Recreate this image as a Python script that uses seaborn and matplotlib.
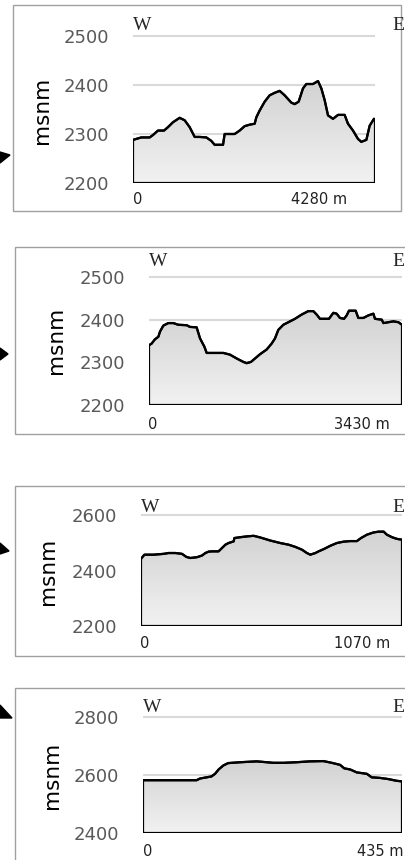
import numpy as np
import matplotlib
matplotlib.use("Agg")
import matplotlib.pyplot as plt
from matplotlib.patches import Polygon, Rectangle
from matplotlib.colors import LinearSegmentedColormap
import seaborn as sns

# ---- data ----
dist_1 = [0, 88, 147, 295, 354, 442, 548, 619, 707, 825, 914, 1002, 1091, 1179, 1297, 1385,
          1444, 1592, 1621, 1798, 1886, 1975, 2063, 2152, 2181, 2240, 2329, 2417, 2505, 2594,
          2682, 2800, 2859, 2930, 3006, 3065, 3183, 3272, 3331, 3390, 3449, 3537, 3626, 3743,
          3802, 3891, 3979, 4038, 4127, 4186, 4262, 4280]
elev_1 = [2288, 2291, 2293, 2293, 2298, 2307, 2307, 2314, 2324, 2333, 2328, 2314, 2294, 2294,
          2293, 2286, 2278, 2278, 2300, 2300, 2307, 2316, 2319, 2321, 2334, 2348, 2366, 2379,
          2384, 2388, 2379, 2364, 2361, 2366, 2393, 2402, 2402, 2408, 2393, 2369, 2338, 2331,
          2339, 2339, 2321, 2307, 2290, 2284, 2288, 2317, 2331, 2328]

dist_2 = [0, 36, 81, 127, 149, 194, 262, 330, 398, 511, 556, 646, 692, 750, 782, 850, 1008,
          1098, 1189, 1279, 1324, 1383, 1437, 1505, 1595, 1663, 1708, 1753, 1821, 1889, 1979,
          2070, 2160, 2228, 2273, 2318, 2409, 2440, 2499, 2544, 2589, 2644, 2680, 2711, 2802,
          2838, 2906, 2974, 3042, 3064, 3155, 3178, 3245, 3313, 3381, 3430]
elev_2 = [2340, 2344, 2354, 2360, 2372, 2386, 2392, 2392, 2388, 2387, 2383, 2382, 2356, 2337,
          2322, 2322, 2322, 2318, 2309, 2301, 2298, 2301, 2309, 2319, 2330, 2344, 2356, 2376,
          2388, 2394, 2402, 2412, 2420, 2420, 2412, 2402, 2402, 2402, 2416, 2414, 2404, 2402,
          2410, 2421, 2421, 2404, 2404, 2410, 2414, 2402, 2400, 2392, 2394, 2396, 2394, 2388]

dist_3 = [0, 14, 52, 93, 113, 141, 168, 186, 202, 230, 250, 264, 277, 291, 318, 332, 346, 359,
          380, 383, 407, 435, 462, 489, 530, 571, 605, 633, 660, 680, 694, 715, 728, 749, 776,
          803, 831, 858, 885, 902, 926, 953, 974, 995, 1008, 1029, 1049, 1070]
elev_3 = [2442, 2457, 2457, 2460, 2463, 2463, 2460, 2449, 2445, 2448, 2454, 2463, 2468, 2469,
          2469, 2481, 2493, 2499, 2505, 2517, 2520, 2523, 2525, 2519, 2508, 2499, 2493, 2485,
          2475, 2463, 2457, 2463, 2469, 2477, 2489, 2499, 2504, 2506, 2506, 2517, 2529, 2537,
          2540, 2540, 2529, 2520, 2514, 2511]

dist_4 = [0, 40, 90, 96, 107, 115, 121, 127, 135, 143, 163, 191, 219, 236, 258, 280, 303, 317,
          331, 338, 348, 359, 376, 384, 398, 412, 426, 435]
elev_4 = [2582, 2582, 2582, 2588, 2592, 2595, 2604, 2619, 2633, 2641, 2644, 2647, 2642, 2642,
          2644, 2647, 2648, 2642, 2635, 2623, 2619, 2609, 2604, 2592, 2590, 2586, 2580, 2578]

yticks_1 = [2200, 2300, 2400, 2500]
yticks_2 = [2200, 2300, 2400, 2500]
yticks_3 = [2200, 2400, 2600]
yticks_4 = [2400, 2600, 2800]
length_labels = ["4280 m", "3430 m", "1070 m", "435 m"]

W, H = 406, 860
sns.set_style("white")
plt.rcParams["font.family"] = ["DejaVu Sans"]

fig = plt.figure(figsize=(W / 100, H / 100), dpi=100)


def rect(x0, y0, x1, y1):
    return [x0 / W, 1 - y1 / H, (x1 - x0) / W, (y1 - y0) / H]


def px(x, y):
    return x / W, 1 - y / H


grad_cmap = LinearSegmentedColormap.from_list("g", ["#f2f2f2", "#d2d2d2"])

panels = [
    # data, ticks, frame box, plot box, ylim, label positions
    dict(d=dist_1, e=elev_1, ticks=yticks_1, frame=(13, 5, 401, 211),
         plot=(133, 183 - 315 * 0.49, 375, 183), ylim=(2200, 2515),
         msnm=(42, 110), wy=26, zero=(133, 200), lab=(319, 200),
         tri=[(0, 152), (10, 155), (0, 163)]),
    dict(d=dist_2, e=elev_2, ticks=yticks_2, frame=(15, 247, 412, 434),
         plot=(149, 405 - 320 * 0.4267, 402, 405), ylim=(2200, 2520),
         msnm=(56, 340), wy=261, zero=(148, 424), lab=(362, 424),
         tri=[(0, 348), (8, 354), (0, 360)]),
    dict(d=dist_3, e=elev_3, ticks=yticks_3, frame=(15, 486, 412, 656),
         plot=(141, 626 - 430 * 0.2775, 402, 626), ylim=(2200, 2630),
         msnm=(48, 571), wy=507, zero=(140, 644), lab=(362, 644),
         tri=[(0, 543), (9, 551), (0, 554)]),
    dict(d=dist_4, e=elev_4, ticks=yticks_4, frame=(15, 688, 412, 870),
         plot=(143, 833 - 430 * 0.29, 402, 833), ylim=(2400, 2830),
         msnm=(52, 775), wy=708, zero=(143, 852), lab=(380, 852),
         tri=[(0, 705), (12, 718), (0, 718)]),
]

for p, lab in zip(panels, length_labels):
    # grey frame around each panel
    fx0, fy0, fx1, fy1 = p["frame"]
    fig.add_artist(Rectangle(px(fx0, fy1), (fx1 - fx0) / W, (fy1 - fy0) / H,
                             transform=fig.transFigure, fill=False,
                             edgecolor="#a0a0a0", lw=1.0))

    ax = fig.add_axes(rect(*p["plot"]))
    d = np.array(p["d"])
    e = np.array(p["e"])
    base = p["ylim"][0]
    ax.set_xlim(d[0], d[-1])
    ax.set_ylim(*p["ylim"])

    for t in p["ticks"]:
        ax.axhline(t, color="#d9d9d9", lw=1.5, zorder=1)

    verts = [(d[0], base)] + list(zip(d, e)) + [(d[-1], base)]
    poly = Polygon(verts, closed=True, facecolor="none", edgecolor="black",
                   lw=1.6, zorder=4, joinstyle="round")
    ax.add_patch(poly)
    grad = np.linspace(0, 1, 256).reshape(-1, 1)
    im = ax.imshow(grad, extent=[d[0], d[-1], base, max(e)], origin="lower",
                   aspect="auto", cmap=grad_cmap, zorder=2)
    im.set_clip_path(poly)
    sns.lineplot(x=d, y=e, ax=ax, color="black", lw=1.6, estimator=None,
                 sort=False, zorder=5)

    ax.set_yticks(p["ticks"])
    ax.set_yticklabels([str(t) for t in p["ticks"]], color="#595959", fontsize=13)
    ax.tick_params(axis="y", length=0, pad=17)
    ax.set_xticks([])
    for s in ax.spines.values():
        s.set_visible(False)
    ax.set_facecolor("none")
    ax.patch.set_alpha(0)

    fig.text(*px(*p["msnm"]), "msnm", rotation=90, fontsize=15.5, color="black",
             ha="center", va="center")
    fig.text(*px(p["plot"][0], p["wy"]), "W", family="Liberation Serif",
             fontsize=14, ha="left", va="center")
    fig.text(*px(392, p["wy"]), "E", family="Liberation Serif",
             fontsize=14, ha="left", va="center")
    fig.text(*px(*p["zero"]), "0", fontsize=10.5, color="#222222",
             ha="left", va="center")
    fig.text(*px(*p["lab"]), lab, fontsize=10.5, color="#222222",
             ha="center", va="center")

    fig.add_artist(Polygon([px(x, y) for x, y in p["tri"]], closed=True,
                           transform=fig.transFigure, color="black"))

fig.savefig("out.png", dpi=100)
